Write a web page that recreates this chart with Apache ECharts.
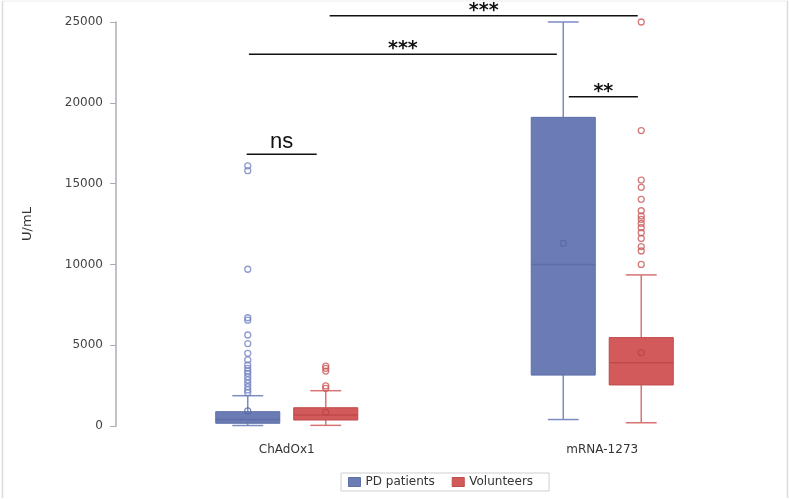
<!DOCTYPE html>
<html>
<head>
<meta charset="utf-8">
<script src="https://cdn.jsdelivr.net/npm/echarts@6/dist/echarts.min.js"></script>
<style>html,body{margin:0;padding:0;background:#fff}#c{width:789px;height:499px}</style>
</head>
<body>
<div id="c"></div>
<script>
// ---- data ----
const categories = ['ChAdOx1', 'mRNA-1273'];
const yTicks = [0, 5000, 10000, 15000, 20000, 25000];
const seriesNames = ['PD patients', 'Volunteers'];

const pdMin    = [30, 400];
const pdQ1     = [170, 3150];
const pdMedian = [400, 10000];
const pdQ3     = [885, 19100];
const pdMax    = [1875, 25000];
const pdMean   = [930, 11300];

const volMin    = [40, 200];
const volQ1     = [370, 2540];
const volMedian = [680, 3920];
const volQ3     = [1130, 5470];
const volMax    = [2185, 9350];
const volMean   = [845, 4540];

const pdOutliersChAdOx1 = [16100, 15800, 9700, 6700, 6550, 5630, 5100, 4500, 4090, 3780, 3570, 3400, 3260, 3050, 2850, 2640, 2430, 2230, 2060];
const pdOutliersMRNA = [];
const volOutliersChAdOx1 = [3710, 3570, 3400, 2480, 2330];
const volOutliersMRNA = [25000, 18280, 15220, 14770, 14030, 13320, 13000, 12790, 12540, 12270, 11960, 11610, 11100, 10830, 10000];

// significance annotations (data coordinates)
const annX1 = [-0.127, -0.120, 0.136, 0.894];
const annX2 = [0.095, 0.856, 1.1125, 1.113];
const annY  = [16810, 23000, 25390, 20380];
const annLabel = ['ns', '***', '***', '**'];

// ---- styling constants ----
const GROUP_OFFSET = 0.1236;
const BOX_W = 0.203;
const CAP_W = 0.098;
const PD_FILL = '#6b7cb4', PD_EDGE = '#5d6ea8', PD_WHISK = '#7b8bc4', PD_OUT = '#7383c0';
const VOL_FILL = '#d25a5a', VOL_EDGE = '#c04a4a', VOL_WHISK = '#d87474', VOL_OUT = '#c85a5a';

function boxData(off, mn, q1, md, q3, mx) {
  return categories.map((c, i) => [i + off, mn[i], q1[i], md[i], q3[i], mx[i]]);
}
function pointData(off, arr) { return categories.map((c, i) => [i + off, arr[i]]); }
function outData(off, idx, arr) { return arr.map(v => [idx + off, v]); }

function boxRender(fill, edge, whisk) {
  return function (params, api) {
    const x = api.value(0);
    const p = v => api.coord([x, v]);
    const bw = api.size([BOX_W, 0])[0];
    const cw = api.size([CAP_W, 0])[0];
    const pMin = p(api.value(1)), pQ1 = p(api.value(2)), pMed = p(api.value(3)),
          pQ3 = p(api.value(4)), pMax = p(api.value(5));
    const cx = pMin[0];
    const ls = { stroke: whisk, lineWidth: 1.5 };
    return {
      type: 'group',
      children: [
        { type: 'line', shape: { x1: cx, y1: pMax[1], x2: cx, y2: pQ3[1] }, style: ls },
        { type: 'line', shape: { x1: cx, y1: pQ1[1], x2: cx, y2: pMin[1] }, style: ls },
        { type: 'line', shape: { x1: cx - cw / 2, y1: pMax[1], x2: cx + cw / 2, y2: pMax[1] }, style: ls },
        { type: 'line', shape: { x1: cx - cw / 2, y1: pMin[1], x2: cx + cw / 2, y2: pMin[1] }, style: ls },
        { type: 'rect', shape: { x: cx - bw / 2, y: pQ3[1], width: bw, height: pQ1[1] - pQ3[1] },
          style: { fill: fill, stroke: edge, lineWidth: 1 } },
        { type: 'line', shape: { x1: cx - bw / 2, y1: pMed[1], x2: cx + bw / 2, y2: pMed[1] },
          style: { stroke: edge, lineWidth: 1.5 } }
      ]
    };
  };
}

const chart = echarts.init(document.getElementById('c'), null, { renderer: 'canvas' });
const FONT = 'DejaVu Sans';
const option = {
  animation: false,
  backgroundColor: '#fff',
  grid: { left: 129, right: 29, top: 22, bottom: 73 },
  xAxis: [
    { type: 'category', data: categories, position: 'bottom', boundaryGap: true,
      axisLine: { show: false }, axisTick: { show: false }, splitLine: { show: false },
      axisLabel: { margin: 18, fontFamily: FONT, fontSize: 12, color: '#333' } },
    { type: 'value', min: -0.5, max: 1.5, show: false, position: 'bottom', splitLine: { show: false } }
  ],
  yAxis: {
    type: 'value', min: yTicks[0], max: yTicks[yTicks.length - 1], interval: 5000, offset: 13,
    name: 'U/mL', nameLocation: 'middle', nameGap: 82, nameRotate: 90,
    nameTextStyle: { fontFamily: FONT, fontSize: 13, color: '#333' },
    axisLine: { show: true, onZero: false, lineStyle: { color: '#a9acb6', width: 1.5 } },
    axisTick: { show: true, length: 6, lineStyle: { color: '#a9acb6' } },
    axisLabel: { margin: 13, fontFamily: FONT, fontSize: 12, color: '#444', formatter: v => String(v) },
    splitLine: { show: false }
  },
  legend: {
    left: 341, top: 473,
    data: [
      { name: seriesNames[0], icon: 'rect', itemStyle: { color: PD_FILL, borderColor: PD_EDGE, borderWidth: 1 } },
      { name: seriesNames[1], icon: 'rect', itemStyle: { color: VOL_FILL, borderColor: VOL_EDGE, borderWidth: 1 } }
    ],
    itemWidth: 12, itemHeight: 9, itemGap: 17,
    borderColor: '#cfcfcf', borderWidth: 1, padding: [3, 16, 3, 7],
    textStyle: { fontFamily: FONT, fontSize: 12, color: '#333' }
  },
  series: [
    { name: seriesNames[0], type: 'custom', xAxisIndex: 1, yAxisIndex: 0,
      itemStyle: { color: PD_FILL },
      renderItem: boxRender(PD_FILL, PD_EDGE, PD_WHISK),
      encode: { x: 0, y: [1, 2, 3, 4, 5] },
      data: boxData(-GROUP_OFFSET, pdMin, pdQ1, pdMedian, pdQ3, pdMax) },
    { name: seriesNames[1], type: 'custom', xAxisIndex: 1, yAxisIndex: 0,
      itemStyle: { color: VOL_FILL },
      renderItem: boxRender(VOL_FILL, VOL_EDGE, VOL_WHISK),
      encode: { x: 0, y: [1, 2, 3, 4, 5] },
      data: boxData(GROUP_OFFSET, volMin, volQ1, volMedian, volQ3, volMax) },
    { name: 'PD mean', type: 'scatter', xAxisIndex: 1, symbol: 'circle', symbolSize: 6,
      itemStyle: { color: 'rgba(0,0,0,0)', borderColor: '#5566a3', borderWidth: 1.2 },
      data: pointData(-GROUP_OFFSET, pdMean) },
    { name: 'Vol mean', type: 'scatter', xAxisIndex: 1, symbol: 'circle', symbolSize: 6,
      itemStyle: { color: 'rgba(0,0,0,0)', borderColor: '#b84646', borderWidth: 1.2 },
      data: pointData(GROUP_OFFSET, volMean) },
    { name: 'PD outliers', type: 'scatter', xAxisIndex: 1, symbol: 'circle', symbolSize: 6,
      itemStyle: { color: 'rgba(255,255,255,0)', borderColor: PD_OUT, borderWidth: 1.3 },
      data: outData(-GROUP_OFFSET, 0, pdOutliersChAdOx1).concat(outData(-GROUP_OFFSET, 1, pdOutliersMRNA)) },
    { name: 'Vol outliers', type: 'scatter', xAxisIndex: 1, symbol: 'circle', symbolSize: 6,
      itemStyle: { color: 'rgba(255,255,255,0)', borderColor: VOL_OUT, borderWidth: 1.3 },
      data: outData(GROUP_OFFSET, 0, volOutliersChAdOx1).concat(outData(GROUP_OFFSET, 1, volOutliersMRNA)) }
  ]
};
chart.setOption(option);

// annotations and frame
const graphics = [
  { type: 'line', shape: { x1: 2.5, y1: 1, x2: 2.5, y2: 498 }, style: { stroke: '#dcdcdc', lineWidth: 1.5 } },
  { type: 'line', shape: { x1: 787.5, y1: 1, x2: 787.5, y2: 498 }, style: { stroke: '#dcdcdc', lineWidth: 1.5 } },
  { type: 'line', shape: { x1: 2, y1: 1, x2: 788, y2: 1 }, style: { stroke: '#ececec', lineWidth: 1 } }
];
for (let i = 0; i < annLabel.length; i++) {
  const a = chart.convertToPixel({ xAxisIndex: 1, yAxisIndex: 0 }, [annX1[i], annY[i]]);
  const b = chart.convertToPixel({ xAxisIndex: 1, yAxisIndex: 0 }, [annX2[i], annY[i]]);
  graphics.push({ type: 'line', shape: { x1: a[0], y1: a[1], x2: b[0], y2: b[1] },
    style: { stroke: '#111', lineWidth: 1.5 } });
  const isNs = annLabel[i] === 'ns';
  graphics.push({ type: 'text', x: (a[0] + b[0]) / 2, y: a[1] - (isNs ? 12 : 5),
    style: { text: annLabel[i], textAlign: 'center', textVerticalAlign: 'middle',
      font: isNs ? '22px "Liberation Sans"' : 'bold 19px "DejaVu Sans"', fill: '#111' } });
}
chart.setOption({ graphic: graphics });
</script>
</body>
</html>
